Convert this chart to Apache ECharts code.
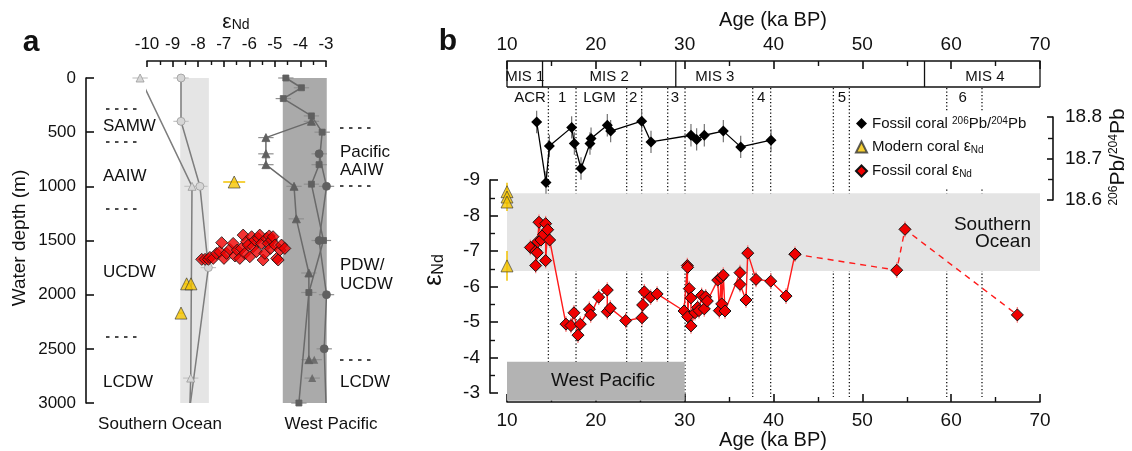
<!DOCTYPE html>
<html>
<head>
<meta charset="utf-8">
<script src="https://cdn.jsdelivr.net/npm/echarts@6/dist/echarts.min.js"></script>
<style>
  html, body { margin: 0; padding: 0; background: #fff; }
  #chart { width: 1132px; height: 451px; }
</style>
</head>
<body>
<div id="chart"></div>
<script>
const FONT = '"Liberation Sans", Arial, Helvetica, sans-serif';
const INK = '#111';

// ---------- panel a : seawater eNd profiles, [eNd, depth m] ----------
const soTriangle = [[-10.27, 0], [-8.24, 1000], [-8.29, 2770], [-8.32, 3000]];
const soCircle = [[-8.67, 0], [-8.67, 400], [-7.93, 1000], [-7.60, 1750], [-8.30, 3000]];
const wpSquare = [[-4.57, 0], [-3.96, 90], [-4.67, 190], [-3.57, 350], [-3.15, 500], [-3.27, 800],
                  [-3.57, 980], [-3.10, 1500], [-3.67, 1980], [-4.06, 3000]];
const wpCircle = [[-3.27, 700], [-2.98, 1000], [-3.27, 1500], [-2.98, 2000], [-3.07, 2500], [-3.00, 3000]];
const wpTriangle = [[-3.57, 400], [-5.35, 550], [-5.35, 700], [-5.35, 800], [-4.25, 1000],
                    [-4.16, 1300], [-3.67, 1800], [-3.67, 2600]];
const wpTriangleLoose = [[-3.46, 2600], [-3.54, 2770]];
const profileErr = 0.3;

const modernCoralDepth = [[-6.59, 960], [-8.45, 1900], [-8.28, 1900], [-8.67, 2170]];
const modernCoralDepthErr = [0.43, 0.1, 0.1, 0.1];

const fossilCoralDepth = [
  [-7.86, 1674], [-7.73, 1674], [-7.60, 1674], [-7.54, 1656], [-7.41, 1665], [-7.28, 1619],
  [-7.15, 1603], [-7.08, 1520], [-6.99, 1665], [-6.89, 1619], [-6.76, 1582], [-6.63, 1527],
  [-6.56, 1643], [-6.47, 1588], [-6.37, 1665], [-6.30, 1573], [-6.24, 1450], [-6.17, 1619],
  [-6.11, 1511], [-6.04, 1542], [-5.98, 1650], [-5.91, 1465], [-5.85, 1557], [-5.78, 1496],
  [-5.72, 1603], [-5.65, 1480], [-5.59, 1450], [-5.52, 1527], [-5.46, 1680], [-5.39, 1619],
  [-5.33, 1480], [-5.26, 1527], [-5.22, 1458], [-5.17, 1573], [-5.13, 1496], [-5.07, 1465],
  [-5.00, 1542], [-4.93, 1665], [-4.87, 1680], [-4.80, 1588], [-4.74, 1542], [-4.61, 1573]
];

// band limits [eNd min, eNd max, depth top, depth bottom]
const soBand = [-8.70, -7.58, 0, 3000];
const wpBand = [-4.69, -2.97, 0, 3000];

// ---------- panel b : coral records vs age ----------
const misBounds = [14, 29, 57];
const misNames = ['MIS 1', 'MIS 2', 'MIS 3', 'MIS 4'];
const misLabelAge = [12, 21.5, 33.4, 63.8];
const eventLines = [14.66, 17.77, 23.47, 25.16, 28.09, 30.04, 37.66, 39.68, 46.74, 48.54, 59.5, 63.47];
const eventNames = ['ACR', '1', 'LGM', '2', '3', '4', '5', '6'];
const eventLabelAge = [12.6, 16.2, 20.4, 24.2, 28.9, 38.6, 47.7, 61.3];

const pbAge = [13.34, 14.39, 14.77, 17.28, 17.58, 18.33, 19.34, 19.46, 21.29, 21.67, 25.16, 26.21,
               30.71, 31.35, 32.21, 34.35, 36.31, 39.72];
const pbValue = [18.788, 18.642, 18.730, 18.775, 18.736, 18.676, 18.736, 18.748, 18.780, 18.766,
                 18.790, 18.740, 18.756, 18.746, 18.756, 18.766, 18.728, 18.744];
const pbErr = 0.027;

const ndAge = [12.63, 13.23, 13.23, 13.41, 13.45, 13.60, 13.83, 14.13, 14.35, 14.35, 14.58, 14.80,
               16.64, 17.20, 17.54, 17.99, 18.25, 19.27, 19.42, 20.32, 21.29, 21.29, 21.63, 23.36,
               25.20, 25.27, 25.46, 26.17, 26.90, 29.93, 30.30, 30.34, 30.34, 30.52, 30.71, 30.71,
               31.16, 31.46, 31.61, 31.91, 32.21, 32.36, 32.55, 33.72, 33.90, 34.10, 34.17, 34.35,
               34.54, 36.23, 36.23, 36.90, 37.10, 38.03, 39.69, 41.41, 42.42];
const ndValue = [-7.10, -7.00, -6.59, -6.95, -7.26, -7.81, -7.31, -7.47, -7.77, -6.73, -7.60, -7.31,
                 -4.94, -4.90, -5.26, -4.63, -4.94, -5.36, -5.20, -5.70, -5.90, -5.29, -5.39, -5.04,
                 -5.12, -5.48, -5.85, -5.70, -5.79, -5.31, -6.59, -6.54, -5.15, -5.94, -5.68, -4.89,
                 -5.26, -5.41, -5.32, -5.75, -5.37, -5.71, -5.59, -6.18, -5.32, -6.25, -5.51, -6.32,
                 -5.31, -6.39, -6.06, -5.62, -6.94, -6.20, -6.15, -5.73, -6.91];
const ndDashedAge = [42.42, 53.87, 54.80, 67.45];
const ndDashedValue = [-6.91, -6.46, -7.61, -5.20];
const ndErr = 0.22;

const modernAge = [10, 10, 10, 10];
const modernNd = [-8.67, -8.52, -8.38, -6.58];
const modernErr = [0.25, 0.25, 0.25, 0.42];

// [age from, age to, eNd from, eNd to]
const southernBand = [10, 70, -8.63, -6.44];
const westBand = [10, 30, -3.88, -2.78];

const zip = (a, b) => a.map((v, i) => [v, b[i]]);

// ---------- helpers ----------
function errBars(xi, yi, pts, errs, horizontal, color, width, z) {
  return {
    type: 'custom', xAxisIndex: xi, yAxisIndex: yi, z: z, silent: true, clip: false,
    data: pts.map((p, i) => [p[0], p[1], Array.isArray(errs) ? errs[i] : errs]),
    renderItem: function (params, api) {
      const x = api.value(0), y = api.value(1), e = api.value(2);
      const a = horizontal ? api.coord([x - e, y]) : api.coord([x, y - e]);
      const b = horizontal ? api.coord([x + e, y]) : api.coord([x, y + e]);
      return { type: 'line', shape: { x1: a[0], y1: a[1], x2: b[0], y2: b[1] },
               style: { stroke: color, lineWidth: width } };
    }
  };
}

function band(xi, yi, rect, color, z) {
  return {
    type: 'custom', xAxisIndex: xi, yAxisIndex: yi, z: z, silent: true, clip: false,
    data: [rect],
    renderItem: function (params, api) {
      const p0 = api.coord([api.value(0), api.value(2)]);
      const p1 = api.coord([api.value(1), api.value(3)]);
      return { type: 'rect', shape: { x: Math.min(p0[0], p1[0]), y: Math.min(p0[1], p1[1]),
               width: Math.abs(p1[0] - p0[0]), height: Math.abs(p1[1] - p0[1]) },
               style: { fill: color } };
    }
  };
}

function profile(pts, symbol, fill, stroke, lineColor, openEnd) {
  return {
    type: 'line', xAxisIndex: 0, yAxisIndex: 0, z: 4, clip: false,
    symbol: symbol, symbolSize: symbol === 'rect' ? 6 : 8,
    data: pts.map((p, i) => (openEnd && i === pts.length - 1) ? { value: p, symbol: 'none' } : p),
    itemStyle: { color: fill, borderColor: stroke, borderWidth: 0.8 },
    lineStyle: { color: lineColor, width: 1.5 },
    emphasis: { disabled: true }
  };
}

function valueAxis(o, label) {
  return Object.assign({
    type: 'value',
    axisLine: { show: true, onZero: false, lineStyle: { color: INK, width: 1.6 } },
    axisTick: { show: true, inside: true, length: 8, lineStyle: { color: INK, width: 1.6 } },
    minorTick: { show: true, splitNumber: 2, length: 5, lineStyle: { color: INK, width: 1.4 } },
    axisLabel: Object.assign({ color: INK, fontSize: 19, fontFamily: FONT, formatter: v => String(v) }, label || {}),
    splitLine: { show: false },
    minorSplitLine: { show: false }
  }, o);
}

const chart = echarts.init(document.getElementById('chart'));

const legendText = {
  pb: '{t|Fossil coral }{sup|206}{t|Pb/}{sup|204}{t|Pb}',
  modern: '{t|Modern coral }{e|ε}{sub|Nd}',
  fossil: '{t|Fossil coral }{e|ε}{sub|Nd}'
};

chart.setOption({
  animation: false,
  textStyle: { fontFamily: FONT },
  grid: [
    { left: 147, top: 78, width: 179, height: 325 },
    { left: 507, top: 117, width: 533, height: 83 },
    { left: 507, top: 180, width: 533, height: 213 }
  ],
  xAxis: [
    valueAxis({ gridIndex: 0, position: 'top', offset: 17, min: -10, max: -3, interval: 1,
                axisTick: { show: true, inside: true, length: 6, lineStyle: { color: INK, width: 1.6 } },
                minorTick: { show: true, splitNumber: 2, length: 4, lineStyle: { color: INK, width: 1.4 } } },
              { fontSize: 17, margin: 8 }),
    valueAxis({ gridIndex: 1, position: 'top', offset: 56, min: 10, max: 70, interval: 10 },
              { margin: 7 }),
    valueAxis({ gridIndex: 2, position: 'bottom', offset: 9, min: 10, max: 70, interval: 10 },
              { margin: 9 })
  ],
  yAxis: [
    valueAxis({ gridIndex: 0, position: 'left', offset: 61, inverse: true, min: 0, max: 3000, interval: 500,
                minorTick: { show: false } },
              { fontSize: 17, margin: 10 }),
    valueAxis({ gridIndex: 1, position: 'right', offset: 13, min: 18.6, max: 18.8, interval: 0.1,
                axisTick: { show: true, inside: true, length: 6, lineStyle: { color: INK, width: 1.6 } } },
              { margin: 12, formatter: v => v.toFixed(1) }),
    valueAxis({ gridIndex: 2, position: 'left', offset: 17, inverse: true, min: -9, max: -3, interval: 1 },
              { margin: 10 })
  ],
  legend: {
    orient: 'vertical', left: 851, top: 111, itemWidth: 11, itemHeight: 11, itemGap: 8,
    backgroundColor: '#fff', padding: [5, 8, 10, 4], selectedMode: false, z: 6,
    data: [{ name: 'pb', icon: 'diamond' }, { name: 'modern', icon: 'triangle' }, { name: 'fossil', icon: 'diamond' }],
    formatter: n => legendText[n],
    textStyle: {
      fontFamily: FONT, fontSize: 15, color: INK,
      rich: {
        t: { fontSize: 15, fontFamily: FONT, color: INK },
        e: { fontSize: 16, fontFamily: FONT, color: INK },
        sup: { fontSize: 10, fontFamily: FONT, color: INK, verticalAlign: 'top', lineHeight: 10 },
        sub: { fontSize: 10, fontFamily: FONT, color: INK, verticalAlign: 'bottom', lineHeight: 10 }
      }
    }
  },
  series: [
    // panel a
    band(0, 0, soBand, '#e5e5e5', 1),
    band(0, 0, wpBand, '#aaaaaa', 1),
    errBars(0, 0, soTriangle.slice(0, 3), profileErr, true, '#c4c4c4', 1.2, 3),
    errBars(0, 0, soCircle.slice(0, 4), profileErr, true, '#c4c4c4', 1.2, 3),
    errBars(0, 0, wpSquare, profileErr, true, '#8f8f8f', 1.2, 3),
    errBars(0, 0, wpCircle.slice(0, 5), profileErr, true, '#8f8f8f', 1.2, 3),
    errBars(0, 0, wpTriangle.concat(wpTriangleLoose), profileErr, true, '#8f8f8f', 1.2, 3),
    profile(soTriangle, 'triangle', '#d6d6d6', '#9a9a9a', '#7d7d7d', true),
    profile(soCircle, 'circle', '#d6d6d6', '#9a9a9a', '#7d7d7d', true),
    profile(wpSquare, 'rect', '#606060', '#606060', '#6a6a6a', false),
    profile(wpCircle, 'circle', '#606060', '#606060', '#6a6a6a', true),
    profile(wpTriangle, 'triangle', '#606060', '#606060', '#6a6a6a', false),
    { type: 'scatter', xAxisIndex: 0, yAxisIndex: 0, z: 4, symbol: 'triangle', symbolSize: 8,
      data: wpTriangleLoose, itemStyle: { color: '#606060' } },
    errBars(0, 0, modernCoralDepth, modernCoralDepthErr, true, '#f2c200', 1.5, 4),
    { type: 'scatter', xAxisIndex: 0, yAxisIndex: 0, z: 5, symbol: 'triangle', symbolSize: 12,
      data: modernCoralDepth, itemStyle: { color: '#f5c400', borderColor: '#333', borderWidth: 0.8 } },
    { type: 'scatter', xAxisIndex: 0, yAxisIndex: 0, z: 6, symbol: 'diamond', symbolSize: 12,
      data: fossilCoralDepth, itemStyle: { color: '#f00000', borderColor: '#111', borderWidth: 1 } },

    // panel b
    band(2, 2, southernBand, '#e4e4e4', 1),
    band(2, 2, westBand, '#b3b3b3', 1),
    errBars(1, 1, zip(pbAge, pbValue), pbErr, false, '#666', 1.1, 3),
    { name: 'pb', type: 'line', xAxisIndex: 1, yAxisIndex: 1, z: 4, clip: false,
      symbol: 'diamond', symbolSize: 11, data: zip(pbAge, pbValue),
      itemStyle: { color: '#000' }, lineStyle: { color: '#000', width: 1.3 } },
    errBars(2, 2, zip(ndAge, ndValue), ndErr, false, '#ff8080', 1.3, 3),
    errBars(2, 2, zip(ndDashedAge, ndDashedValue).slice(1), ndErr, false, '#ff8080', 1.3, 3),
    { name: 'fossil', type: 'line', xAxisIndex: 2, yAxisIndex: 2, z: 5, clip: false,
      symbol: 'diamond', symbolSize: 12, data: zip(ndAge, ndValue),
      itemStyle: { color: '#f00000', borderColor: '#111', borderWidth: 1 },
      lineStyle: { color: '#ff1a1a', width: 1.4 } },
    { name: 'fossil2', type: 'line', xAxisIndex: 2, yAxisIndex: 2, z: 5, clip: false,
      symbol: 'diamond', symbolSize: 12, data: zip(ndDashedAge, ndDashedValue),
      itemStyle: { color: '#f00000', borderColor: '#111', borderWidth: 1 },
      lineStyle: { color: '#ff1a1a', width: 1.4, type: [6, 5] } },
    errBars(2, 2, zip(modernAge, modernNd), modernErr, false, '#f2c200', 1.5, 3),
    { name: 'modern', type: 'scatter', xAxisIndex: 2, yAxisIndex: 2, z: 5, clip: false,
      symbol: 'triangle', symbolSize: 12, data: zip(modernAge, modernNd),
      itemStyle: { color: '#f5c400', borderColor: '#333', borderWidth: 0.8 } }
  ]
});

// ---------- annotations ----------
const ax = v => chart.convertToPixel({ xAxisIndex: 2 }, v);
const ey = v => chart.convertToPixel({ yAxisIndex: 2 }, v);
const g = [];
function text(x, y, s, size, extra, rot) {
  g.push({ type: 'text', x: x, y: y, z: 20, rotation: rot || 0, silent: true,
           style: Object.assign({ text: s, fontSize: size, fontFamily: FONT, fill: INK,
                                  align: 'center', verticalAlign: 'middle' }, extra || {}) });
}
function line(x1, y1, x2, y2, w, dash, z) {
  g.push({ type: 'line', z: z === undefined ? 20 : z, silent: true, shape: { x1, y1, x2, y2 },
           style: { stroke: INK, lineWidth: w, lineDash: dash || null } });
}
const ndRich = (big, small) => ({
  e: { fontSize: big, fontFamily: FONT, fill: INK },
  s: { fontSize: small, fontFamily: FONT, fill: INK, verticalAlign: 'bottom', lineHeight: small }
});

// panel labels
text(31, 43, 'a', 30, { fontWeight: 'bold' });
text(448, 42, 'b', 30, { fontWeight: 'bold' });

// panel a titles and water-mass labels
text(236, 22, '{e|ε}{s|Nd}', 20, { rich: ndRich(21, 14) });
text(20, 238, 'Water depth (m)', 19, null, Math.PI / 2);
[['SAMW', 126], ['AAIW', 176], ['UCDW', 272], ['LCDW', 382]].forEach(d =>
  text(103, d[1], d[0], 17, { align: 'left' }));
[109, 142, 209, 337].forEach(y => line(106, y, 137, y, 1.5, [3.5, 5.5]));
[['Pacific', 152], ['AAIW', 170], ['PDW/', 265], ['UCDW', 284], ['LCDW', 382]].forEach(d =>
  text(340, d[1], d[0], 17, { align: 'left' }));
[128, 186, 360].forEach(y => line(340, y, 371, y, 1.5, [3.5, 5.5]));
text(160, 424, 'Southern Ocean', 17);
text(331, 424, 'West Pacific', 17);

// panel b titles
text(773, 20, 'Age (ka BP)', 20);
text(773, 440, 'Age (ka BP)', 20);
text(434, 270, '{e|ε}{s|Nd}', 24, { rich: ndRich(25, 16) }, Math.PI / 2);
text(1118, 157, '{s|206}{n|Pb/}{s|204}{n|Pb}', 21, {
  rich: { n: { fontSize: 21, fontFamily: FONT, fill: INK },
          s: { fontSize: 12, fontFamily: FONT, fill: INK, verticalAlign: 'top', lineHeight: 12 } } }, Math.PI / 2);

// MIS row
const rowTop = 61, rowBot = 87;
line(ax(10), rowTop, ax(10), rowBot, 1.3);
line(ax(70), rowTop, ax(70), rowBot, 1.3);
line(ax(10), rowBot, ax(70), rowBot, 1.3);
misBounds.forEach(a => line(ax(a), rowTop, ax(a), rowBot, 1.3));
misNames.forEach((n, i) => text(ax(misLabelAge[i]), 77, n, 15));
eventNames.forEach((n, i) => text(ax(eventLabelAge[i]), 98, n, 15));

// dotted event lines, drawn below the bands
const dotBottom = ey(-3) + 4;
eventLines.forEach(a => line(ax(a), rowBot + 1, ax(a), dotBottom, 1.3, [1.3, 2.2], 0));

// band labels
text(1031, 225, 'Southern', 19, { align: 'right' });
text(1031, 242, 'Ocean', 19, { align: 'right' });
text(603, 381, 'West Pacific', 19);

chart.setOption({ graphic: g });
</script>
</body>
</html>
